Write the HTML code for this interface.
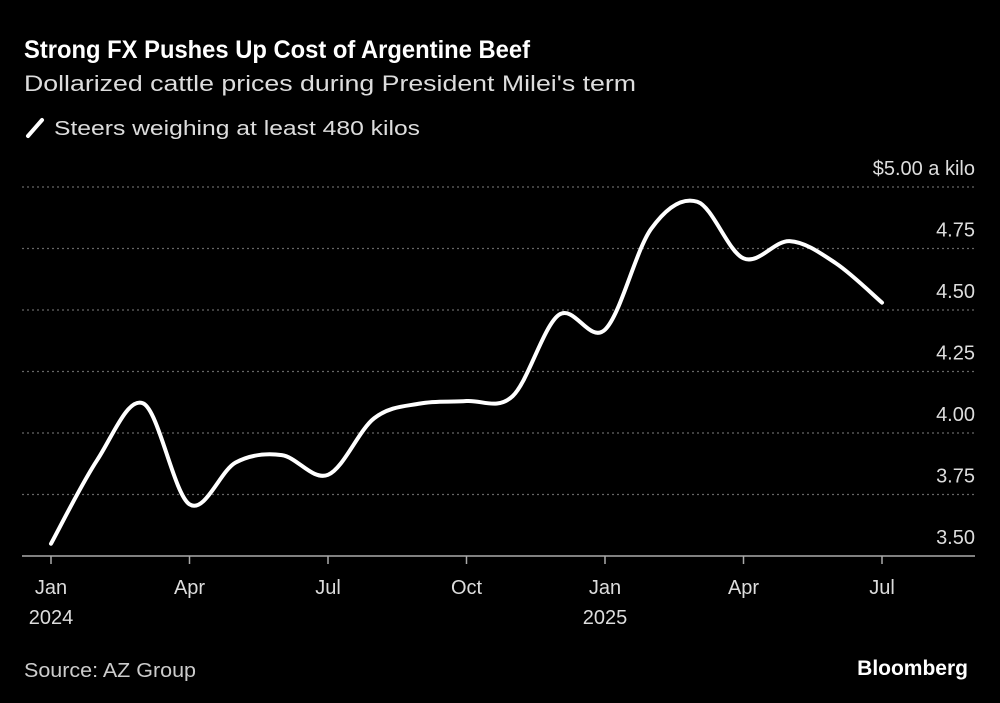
<!DOCTYPE html>
<html><head><meta charset="utf-8"><style>
body{margin:0;background:#000;width:1000px;height:703px;overflow:hidden;font-family:"Liberation Sans",sans-serif;color:#fff}
</style></head><body>
<svg width="1000" height="703" style="position:absolute;left:0;top:0">
<text x="24" y="58" font-size="25" font-weight="bold" fill="#fff" textLength="506" lengthAdjust="spacingAndGlyphs">Strong FX Pushes Up Cost of Argentine Beef</text>
<text x="24" y="91" font-size="22" fill="#ddd" textLength="612" lengthAdjust="spacingAndGlyphs">Dollarized cattle prices during President Milei's term</text>
<line x1="28" y1="136" x2="42" y2="120" stroke="#fff" stroke-width="4" stroke-linecap="round"/>
<text x="54" y="135" font-size="20" fill="#ddd" textLength="366" lengthAdjust="spacingAndGlyphs">Steers weighing at least 480 kilos</text>
<g id="grid"></g><g id="xaxis"></g><g id="yaxis"></g>
<path id="line" fill="none" stroke="#fff" stroke-width="4" stroke-linejoin="round" stroke-linecap="round"/>
<text x="24" y="677" font-size="20" fill="#ccc" textLength="172" lengthAdjust="spacingAndGlyphs">Source: AZ Group</text>
<text x="968" y="675" font-size="21" font-weight="bold" fill="#fff" text-anchor="end">Bloomberg</text>
</svg>
<script>
const values=[3.55,3.89,4.12,3.71,3.88,3.91,3.83,4.06,4.12,4.13,4.15,4.48,4.42,4.83,4.94,4.71,4.78,4.69,4.53];
const yTicks=[3.5,3.75,4.0,4.25,4.5,4.75,5.0];
const yTickLabels=["3.50","3.75","4.00","4.25","4.50","4.75","$5.00 a kilo"];
const xTickIdx=[0,3,6,9,12,15,18];
const xTickLabels=[["Jan","2024"],["Apr",""],["Jul",""],["Oct",""],["Jan","2025"],["Apr",""],["Jul",""]];
const NS="http://www.w3.org/2000/svg";
const x=i=>51+i*(882-51)/18;
const y=v=>556-(v-3.5)*246;
function el(t,a,p){const e=document.createElementNS(NS,t);for(const k in a)e.setAttribute(k,a[k]);p.appendChild(e);return e;}
const grid=document.getElementById('grid'),ya=document.getElementById('yaxis'),xa=document.getElementById('xaxis');
yTicks.forEach((v,i)=>{
 const g=el('line',{x1:22,x2:975,y1:y(v),y2:y(v),stroke:i==0?'#aaa':'#666','stroke-width':i==0?1.5:1.2,'stroke-dasharray':i==0?'':'2,3'},grid);
 
 
 const t=el('text',{x:975,y:y(v)-12,'font-size':20,fill:'#ddd','text-anchor':'end'},ya);
 t.textContent=yTickLabels[i];
 
 
});
xTickIdx.forEach((d,i)=>{
 const l=el('line',{x1:x(d),x2:x(d),y1:556,y2:564,stroke:'#aaa','stroke-width':1.5},xa);
 
 
 const t=el('text',{x:x(d),y:594,'font-size':20,fill:'#ddd','text-anchor':'middle'},xa);
 t.textContent=xTickLabels[i][0];
 
 
 if(xTickLabels[i][1]){const t2=el('text',{x:x(d),y:624,'font-size':20,fill:'#ddd','text-anchor':'middle'},xa);
 t2.textContent=xTickLabels[i][1];
 
 }
});
const P=values.map((v,i)=>[x(i),y(v)]);
let d=`M${P[0][0]},${P[0][1]}`;
for(let i=0;i<P.length-1;i++){
 const p0=P[Math.max(0,i-1)],p1=P[i],p2=P[i+1],p3=P[Math.min(P.length-1,i+2)];
 const c1=[p1[0]+(p2[0]-p0[0])/6,p1[1]+(p2[1]-p0[1])/6],c2=[p2[0]-(p3[0]-p1[0])/6,p2[1]-(p3[1]-p1[1])/6];
 d+=` C${c1[0]},${c1[1]} ${c2[0]},${c2[1]} ${p2[0]},${p2[1]}`;
}
document.getElementById('line').setAttribute('d',d);
</script>
</body></html>
